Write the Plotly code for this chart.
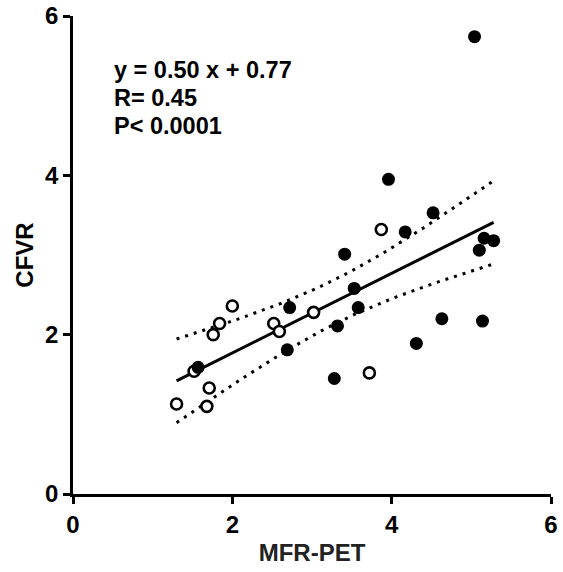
import numpy as np
import plotly.graph_objects as go

# Filled circles
filled_x = [5.04, 3.96, 4.17, 4.52, 3.41, 5.16, 5.28, 5.10, 3.53, 3.58, 3.32, 4.63, 5.14, 4.31, 3.28, 2.72, 2.69, 1.57]
filled_y = [5.74, 3.95, 3.29, 3.53, 3.01, 3.21, 3.18, 3.06, 2.58, 2.34, 2.11, 2.20, 2.17, 1.89, 1.45, 2.34, 1.81, 1.59]
# Open circles
open_x = [3.87, 3.72, 2.00, 3.02, 1.84, 1.76, 2.52, 2.59, 1.71, 1.30, 1.68, 1.52]
open_y = [3.32, 1.52, 2.36, 2.28, 2.14, 2.00, 2.14, 2.04, 1.33, 1.13, 1.10, 1.54]

SLOPE = 0.50
INTERCEPT = 0.77
stats_text = ["y = 0.50 x + 0.77", "R= 0.45", "P< 0.0001"]
tick_vals = [0, 2, 4, 6]

FONT = "Liberation Sans, Arial, sans-serif"

# regression line and 95% confidence band computed from the data
all_x = np.array(filled_x + open_x)
all_y = np.array(filled_y + open_y)
n = len(all_x)
xs = np.linspace(all_x.min(), all_x.max(), 60)
fit = SLOPE * xs + INTERCEPT
resid = all_y - (SLOPE * all_x + INTERCEPT)
s = np.sqrt(np.sum(resid ** 2) / (n - 2))
xbar = all_x.mean()
sxx = np.sum((all_x - xbar) ** 2)
tval = 2.048
half = tval * s * np.sqrt(1.0 / n + (xs - xbar) ** 2 / sxx)

fig = go.Figure()
for yy in (fit + half, fit - half):
    fig.add_trace(go.Scatter(x=xs, y=yy, mode="lines",
                             line=dict(color="black", width=3, dash="3px,6px"),
                             hoverinfo="skip", showlegend=False))
fig.add_trace(go.Scatter(x=xs, y=fit, mode="lines",
                         line=dict(color="black", width=3), showlegend=False))
fig.add_trace(go.Scatter(x=open_x, y=open_y, mode="markers",
                         marker=dict(size=11, color="white", line=dict(color="black", width=2.6)),
                         showlegend=False))
fig.add_trace(go.Scatter(x=filled_x, y=filled_y, mode="markers",
                         marker=dict(size=13, color="black", line=dict(width=0)),
                         showlegend=False))

for i, (t, yv) in enumerate(zip(stats_text, [5.32, 4.97, 4.62])):
    fig.add_annotation(x=0.49, y=yv, xref="x", yref="y", text="<b>%s</b>" % t,
                       showarrow=False, xanchor="left", yanchor="middle",
                       font=dict(family=FONT, size=23.5, color="black"))

axis_common = dict(range=[0, 6], tickvals=tick_vals, ticks="outside", ticklen=7,
                   tickwidth=2.5, tickcolor="black", showline=True, linecolor="black",
                   linewidth=2.8, showgrid=False, zeroline=False, automargin=False,
                   tickfont=dict(family=FONT, size=24, color="black", weight="bold"))

fig.update_layout(
    width=563, height=572,
    margin=dict(l=73, r=12, t=16, b=78),
    paper_bgcolor="white", plot_bgcolor="white",
    xaxis=dict(**axis_common, title=dict(text="<b>MFR-PET</b>", standoff=8,
               font=dict(family=FONT, size=24, color="#222"))),
    yaxis=dict(**axis_common, title=dict(text="<b>CFVR</b>", standoff=5,
               font=dict(family=FONT, size=24, color="black"))),
)

fig.write_html("out.html", config={"displayModeBar": False},
               post_script="document.body.style.margin='0';")
